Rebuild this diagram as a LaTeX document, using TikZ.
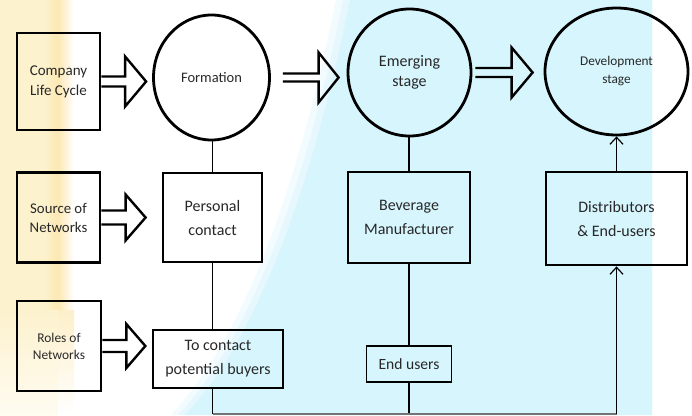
\documentclass[tikz,border=0pt]{standalone}
\usepackage{fontspec}
\setmainfont{Carlito}
\usetikzlibrary{calc, shapes, arrows.meta}
\definecolor{bandyellow}{RGB}{253,242,206}
\definecolor{bandorange}{RGB}{252,232,178}
\definecolor{skyblue}{RGB}{214,245,253}
\definecolor{inkgray}{RGB}{40,40,40}
\tikzset{
	thickbox/.style={draw, rectangle, line width=2.8pt, inner sep=0pt, align=center, text=inkgray},
	thinbox/.style={draw, rectangle, line width=1.3pt, inner sep=0pt, align=center, text=inkgray},
	stagecircle/.style={draw, ellipse, line width=2.8pt, inner sep=0pt, align=center, text=inkgray},
	smallfont/.style={font=\fontsize{15}{20}\selectfont},
	bigfont/.style={font=\fontsize{16}{24}\selectfont},
	blockarrow/.style={line width=2.4pt, line join=miter},
	link/.style={line width=1.4pt},
	uparrow/.style={link, -{Straight Barb[length=7pt, width=13pt, line width=1.2pt]}}
}
\begin{document}
\begin{tikzpicture}[x=1pt, y=-1pt]
				\newcommand{\blockarrow}[5]{
					\draw[blockarrow] let \p1=(#1), \p2=(#2) in
						(\x1,\y1+#3) -- (\x2-#5,\y1+#3) -- (\x2-#5,\y1+#4) -- (\x2,\y1)
						-- (\x2-#5,\y1-#4) -- (\x2-#5,\y1-#3) -- (\x1,\y1-#3);
				}%Background
				\useasboundingbox (0,0) rectangle (692,415);
				\fill[white] (0,0) rectangle (692,415);
				%Yellow band on the left
				\fill[bandyellow] (0,0) rectangle (44,310);
				\shade[left color=bandyellow, right color=bandorange] (44,0) rectangle (58,310);
				\shade[left color=bandorange, right color=white] (58,0) rectangle (74,310);
				\shade[top color=bandyellow, bottom color=bandyellow!30!white] (0,310) rectangle (58,415);
				\shade[top color=bandorange!70!white, bottom color=white] (58,310) rectangle (74,415);
				%Blue area with a soft left edge
				\foreach \dx/\op in {14/0.3, 7/0.4, 0/1} {
					\fill[skyblue, opacity=\op] (652,0) -- (350-\dx,0) .. controls (318-\dx,160) and (265-\dx,330) .. (185-\dx,415) -- (652,415) -- cycle;
				}
				%Row labels
				\node[thickbox, smallfont, minimum width=83, minimum height=97] (lifecyc) at (58.5,81.5) {Company\\Life Cycle};
				\node[thickbox, font=\fontsize{14.8}{19}\selectfont, minimum width=83, minimum height=90] (source) at (58.5,217.5) {Source of\\Networks};
				\node[thickbox, font=\fontsize{13.4}{17}\selectfont, minimum width=84, minimum height=90] (roles) at (59,346) {Roles of\\Networks};
				%Stages of the life cycle
				\node[stagecircle, font=\fontsize{14.5}{18}\selectfont, minimum width=116, minimum height=125] (formation) at (211.5,77.5) {Formation};
				\node[stagecircle, font=\fontsize{16}{20}\selectfont, minimum width=123, minimum height=127] (emerging) at (409.5,72.5) {Emerging\\stage};
				\node[stagecircle, font=\fontsize{13.3}{18}\selectfont, minimum width=143, minimum height=127] (develop) at (616.5,71.5) {Development\\stage};
				%Sources of networks
				\node[thickbox, bigfont, minimum width=99, minimum height=89] (personal) at (212.5,217.5) {Personal\\contact};
				\node[thickbox, bigfont, minimum width=122, minimum height=91] (beverage) at (409,217.5) {Beverage\\Manufacturer};
				\node[thickbox, bigfont, minimum width=141, minimum height=93] (distrib) at (616.5,218.5) {Distributors\\\& End-users};
				%Roles of networks
				\node[thinbox, bigfont, minimum width=130, minimum height=58] (tocontact) at (218,359) {To contact\\potential buyers};
				\node[thinbox, font=\fontsize{15.6}{20}\selectfont, minimum width=85, minimum height=36] (endusers) at (409,364) {End users};
				%Block arrows
				\blockarrow{$(lifecyc.east)$}{$(formation.west)+(-6,0)$}{5}{25}{21}
				\blockarrow{$(source.east)$}{$(personal.west)+(-16,0)$}{7}{23}{20}
				\blockarrow{$(roles.east)$}{$(tocontact.west)+(-7,0)$}{6}{22}{19}
				\blockarrow{$(formation.east)+(12,0)$}{$(emerging.west)+(-8,0)$}{4}{25}{20}
				\blockarrow{$(emerging.east)+(3,0)$}{$(develop.west)+(-11,0)$}{4.5}{25}{21}
				%Vertical links
				\draw[link] (formation.south -| personal.north) -- (personal.north);
				\draw[link] (personal.south) -- (personal.south |- tocontact.north);
				\draw[link] (emerging.south -| beverage.north) -- (beverage.north);
				\draw[link] (beverage.south) -- (beverage.south |- endusers.north);
				\draw[uparrow] (distrib.north) -- (develop.south -| distrib.north);
				%Bottom line
				\coordinate (botleft) at (212.5,414);
				\coordinate (botright) at (616.5,414);
				\draw[link] (personal.south |- tocontact.south) -- (botleft);
				\draw[link] (endusers.south -| beverage.south) -- (endusers.south |- botleft);
				\draw[link, black!55] (botleft) -- (botright);
				\draw[uparrow] (botright) -- (distrib.south);
				\end{tikzpicture}
\end{document}
